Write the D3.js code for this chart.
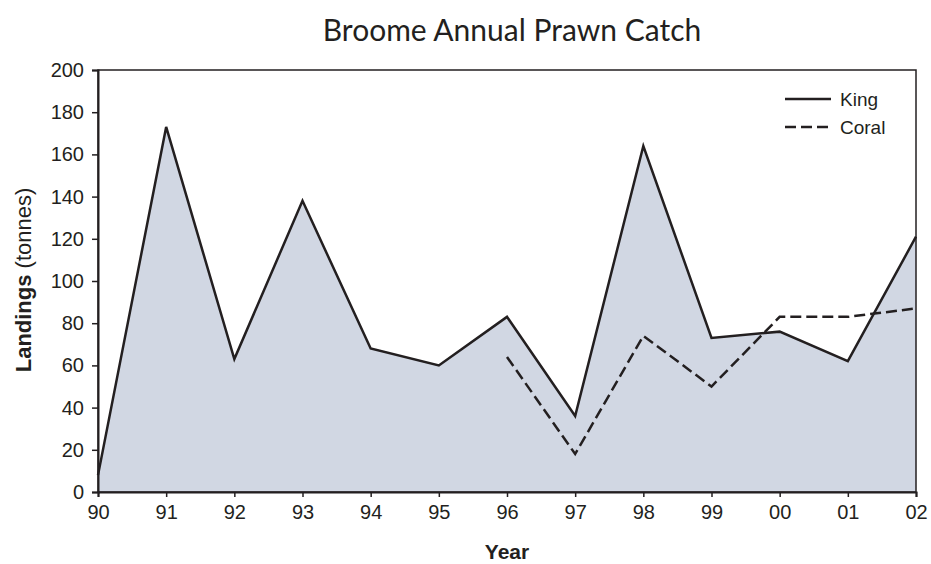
<!DOCTYPE html>
<html><head><meta charset="utf-8">
<script src="https://cdn.jsdelivr.net/npm/d3@7"></script>
<style>body{margin:0;background:#fff}</style>
</head><body>
<svg id="c" width="931" height="564"></svg>
<script>
const years = ["90","91","92","93","94","95","96","97","98","99","00","01","02"];
const king = [8,173,63,138,68,60,83,36,164,73,76,62,121];
const coralYears = ["96","97","98","99","00","01","02"];
const coral = [64,18,74,50,83,83,87];
const yTicks = [0,20,40,60,80,100,120,140,160,180,200];

const svg = d3.select("#c");
const L=98,R=916,T=70,B=492;
const x = d3.scalePoint().domain(years).range([L,R]);
const y = d3.scaleLinear().domain([0,200]).range([B,T]);
const ff = "'Liberation Sans', Arial, sans-serif";
const ink = "#231f20";

svg.append("path").datum(king)
  .attr("fill","#d1d7e3")
  .attr("d", d3.area().x((d,i)=>x(years[i])).y0(B).y1(d=>y(d)));

svg.append("path").datum(king).attr("fill","none").attr("stroke",ink).attr("stroke-width",2.5)
  .attr("d", d3.line().x((d,i)=>x(years[i])).y(d=>y(d)));
svg.append("path").datum(coral).attr("fill","none").attr("stroke",ink).attr("stroke-width",2.5)
  .attr("stroke-dasharray","11,5")
  .attr("d", d3.line().x((d,i)=>x(coralYears[i])).y(d=>y(d)));

// frame
svg.append("rect").attr("x",L).attr("y",T).attr("width",R-L).attr("height",B-T)
  .attr("fill","none").attr("stroke",ink).attr("stroke-width",1.5);

const ya = svg.append("g").attr("transform",`translate(${L},0)`)
  .call(d3.axisLeft(y).tickValues(yTicks).tickSize(6).tickPadding(8));
const xa = svg.append("g").attr("transform",`translate(0,${B})`)
  .call(d3.axisBottom(x).tickSize(5).tickPadding(8));
[ya,xa].forEach(g=>{
  g.attr("font-size",null).attr("font-family",null);
  g.select(".domain").attr("stroke",ink).attr("stroke-width",2);
  g.selectAll(".tick line").attr("stroke",ink).attr("stroke-width",1.5);
  g.selectAll("text").style("font-family",ff).style("font-size","20px").attr("fill",ink);
});

svg.append("text").attr("x",512).attr("y",41).attr("text-anchor","middle")
  .style("font-family","Lato, 'Open Sans', sans-serif").style("font-size","30px").attr("fill",ink)
  .text("Broome Annual Prawn Catch");

svg.append("text").attr("x",507).attr("y",559).attr("text-anchor","middle")
  .style("font-family",ff).style("font-size","21px").attr("font-weight","bold").attr("fill",ink).text("Year");

const yl = svg.append("text").attr("transform","translate(31,280) rotate(-90)").attr("text-anchor","middle")
  .style("font-family",ff).style("font-size","22px").attr("fill",ink);
yl.append("tspan").attr("font-weight","bold").text("Landings");
yl.append("tspan").text(" (tonnes)");

const leg = [{n:"King",d:null,yy:99},{n:"Coral",d:"11,5",yy:127}];
leg.forEach(l=>{
  svg.append("line").attr("x1",785).attr("x2",831).attr("y1",l.yy).attr("y2",l.yy)
    .attr("stroke",ink).attr("stroke-width",2.5).attr("stroke-dasharray",l.d);
  svg.append("text").attr("x",840).attr("y",l.yy+7).style("font-family",ff).style("font-size","19px")
    .attr("fill",ink).text(l.n);
});
</script>
</body></html>
